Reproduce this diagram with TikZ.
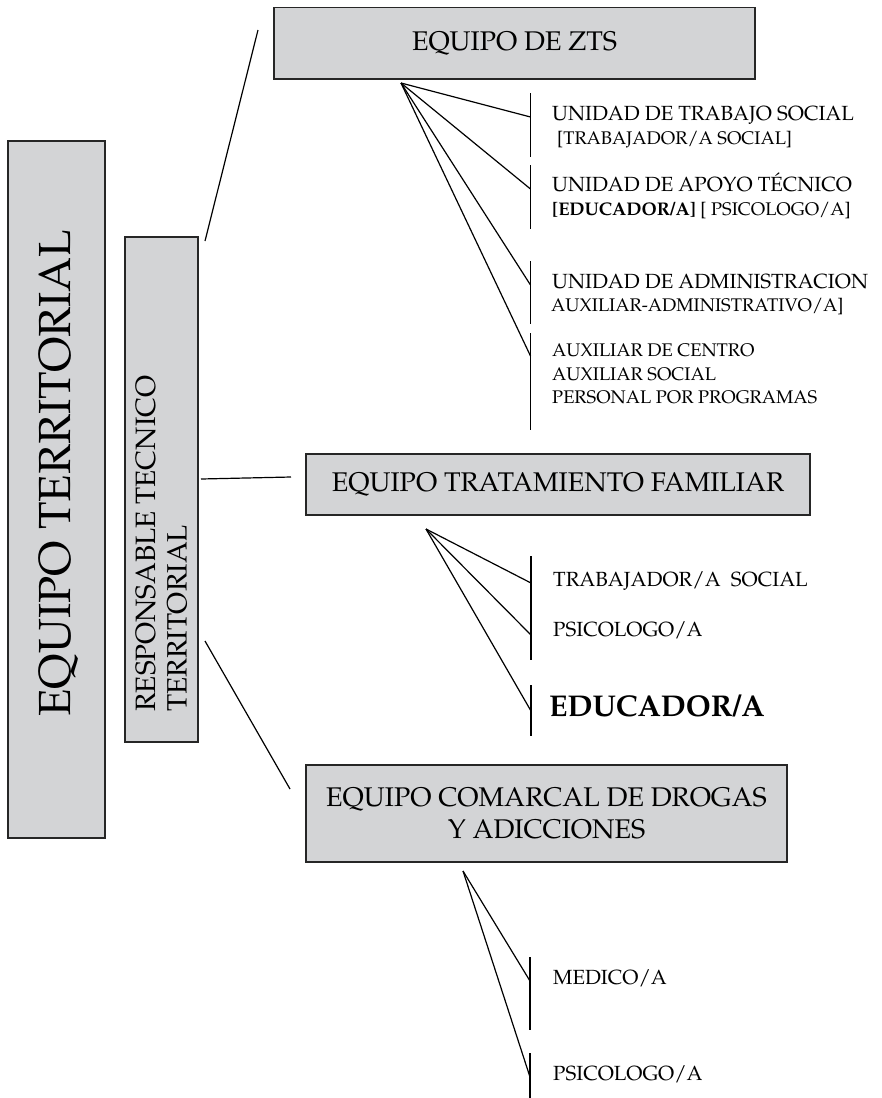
\documentclass[tikz,border=0pt]{standalone}
\usepackage[T1]{fontenc}
\usepackage{mathpazo}
\definecolor{boxgray}{RGB}{211,212,214}
\tikzset{
  box/.style={draw=black!85, fill=boxgray, line width=1.3pt, inner sep=0pt},
  link/.style={line width=1.2pt},
  tick/.style={line width=1.4pt},
  title/.style={font=\fontsize{27}{31.6}\selectfont, align=center},
  item/.style={anchor=base west, inner sep=0pt, font=\fontsize{20.5}{24}\selectfont},
  subitem/.style={anchor=base west, inner sep=0pt, font=\fontsize{18.3}{22}\selectfont},
  vtext/.style={rotate=90, anchor=base west, inner sep=0pt}
}
\begin{document}
\begin{tikzpicture}[x=1pt, y=-1pt]
\useasboundingbox (0,0) rectangle (882,1098);

\node[box, minimum width=97, minimum height=697] (terr) at (56.5,489.5) {};
\node[vtext, font=\fontsize{45}{50}\selectfont] (terrname) at (70,717) {EQUIPO TERRITORIAL};
\node[box, minimum width=73, minimum height=505] (resp) at (161.5,489.5) {};
\node[vtext, font=\fontsize{28}{32}\selectfont] (respname) at (155,712) {RESPONSABLE TECNICO};
\node[vtext, font=\fontsize{28}{32}\selectfont] (respname2) at (186.7,712) {TERRITORIAL};

\node[box, title, minimum width=481, minimum height=71.5] (zts) at (514.5,43.3) {EQUIPO DE ZTS};
\node[box, title, minimum width=504, minimum height=61] (tf) at (558,484.5) {EQUIPO TRATAMIENTO FAMILIAR};
\node[box, title, minimum width=481, minimum height=97] (dro) at (546.5,813.5) {EQUIPO COMARCAL DE DROGAS\\Y ADICCIONES};

\coordinate (r1) at (205,241);
\coordinate (z0) at (258,30);
\coordinate (r2) at (201,479);
\coordinate (f0) at (291,477);
\coordinate (r3) at (205,641);
\coordinate (d0) at (290,789);
\draw[link] (r1) -- (z0);
\draw[link] (r2) -- (f0);
\draw[link] (r3) -- (d0);

% equipo de zts
\coordinate (ztsfan) at (401,83);
\foreach \i/\y in {1/117,2/189,3/285,4/356} {
  \coordinate (zts\i) at (530.5,\y);
  \draw[link] (ztsfan) -- (zts\i);
}
\foreach \a/\b in {93/157,165/229,261/324,333/430}
  \draw[tick] (530.5,\a) -- (530.5,\b);
\node[item] (uts) at (552,120.7) {UNIDAD DE TRABAJO SOCIAL};
\node[subitem] (uts2) at (557,144) {[TRABAJADOR/A SOCIAL]};
\node[item] (uat) at (552,191.7) {UNIDAD DE APOYO T\'ECNICO};
\node[subitem] (uat2) at (552,215) {\textbf{[EDUCADOR/A]} [ PSICOLOGO/A]};
\node[item] (uad) at (552,288) {UNIDAD DE ADMINISTRACION};
\node[subitem] (uad2) at (551,311.7) {AUXILIAR-ADMINISTRATIVO/A]};
\node[subitem] (aux1) at (552,356.7) {AUXILIAR DE CENTRO};
\node[subitem] (aux2) at (552,380) {AUXILIAR SOCIAL};
\node[subitem] (aux3) at (552,403.3) {PERSONAL POR PROGRAMAS};

% equipo tratamiento familiar
\coordinate (tffan) at (426,529);
\foreach \i/\y in {1/583,2/635,3/711} {
  \coordinate (tf\i) at (531,\y);
  \draw[link] (tffan) -- (tf\i);
}
\foreach \a/\b in {556/660,685/736}
  \draw[tick] (531,\a) -- (531,\b);
\node[item] (tfts) at (553,586.4) {TRABAJADOR/A~~SOCIAL};
\node[item] (tfps) at (553,636.4) {PSICOLOGO/A};
\node[item, font=\fontsize{30}{34}\selectfont\bfseries] (tfed) at (549,716.8) {EDUCADOR/A};

% equipo de drogas
\coordinate (drofan) at (463,871);
\foreach \i/\y in {1/981,2/1077} {
  \coordinate (dro\i) at (530,\y);
  \draw[link] (drofan) -- (dro\i);
}
\foreach \a/\b in {957/1030,1053/1098}
  \draw[tick] (530,\a) -- (530,\b);
\node[item] (drome) at (553,984) {MEDICO/A};
\node[item] (drops) at (553,1080) {PSICOLOGO/A};
\end{tikzpicture}
\end{document}
